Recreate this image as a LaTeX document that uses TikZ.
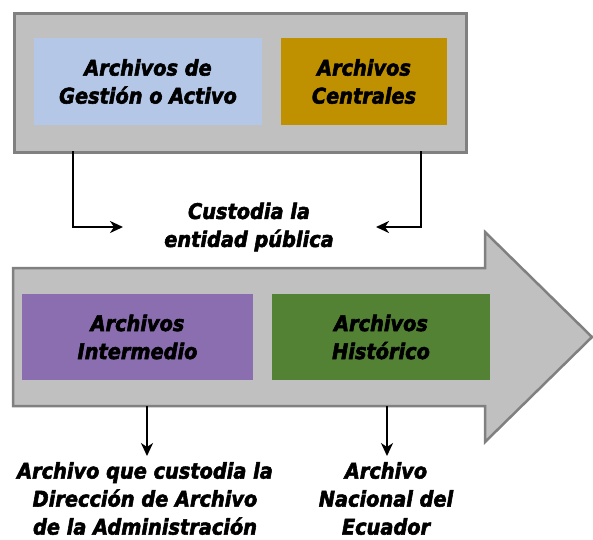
\documentclass[tikz,border=0pt]{standalone}
\usepackage{fontspec}
\setmainfont{DejaVu Sans Condensed}[BoldItalicFeatures={FakeBold=2.5}]
\usetikzlibrary{arrows.meta}
\definecolor{panel}{HTML}{BFC0BF}
\definecolor{panelline}{HTML}{808080}
\definecolor{cblue}{HTML}{B4C7E7}
\definecolor{cgold}{HTML}{BF9000}
\definecolor{cpurple}{HTML}{8A6EAF}
\definecolor{cgreen}{HTML}{548235}
\tikzset{
  box/.style={anchor=north west, inner sep=0pt, outer sep=0pt, align=center,
    font=\fontsize{21.5}{28}\selectfont\bfseries\itshape},
  lbl/.style={inner sep=0pt, align=center, font=\fontsize{21.5}{28}\selectfont\bfseries\itshape},
  conn/.style={line width=2.2pt, -{Stealth[length=13pt,width=12pt,inset=4pt]}}
}
\begin{document}
\begin{tikzpicture}[x=1pt,y=-1pt]
\useasboundingbox (0,0) rectangle (593,539);
% top panel
\node[anchor=north west, draw=panelline, line width=2.5pt, fill=panel, minimum width=452pt, minimum height=139pt, inner sep=0pt] (top) at (13,12) {};
\node[box, fill=cblue, minimum width=228pt, minimum height=87pt] (gest) at (34,38) {Archivos de\\Gestión o Activo};
\node[box, fill=cgold, minimum width=166pt, minimum height=87pt] (cent) at (281,38) {Archivos\\Centrales};
% big arrow
\draw[panelline, line width=2.5pt, fill=panel, line join=miter]
  (13,268) -- (485,268) -- (485,232) -- (592,337) -- (485,442) -- (485,406) -- (13,406) -- cycle;
\coordinate (arrL) at (147,406);
\coordinate (arrR) at (387,406);
\node[box, fill=cpurple, minimum width=231pt, minimum height=86pt] (inter) at (22,294) {Archivos\\Intermedio};
\node[box, fill=cgreen, minimum width=218pt, minimum height=86pt] (hist) at (272,294) {Archivos\\Histórico};
% middle label
\node[lbl] (cust) at (249,227) {Custodia la\\entidad pública};
\coordinate (tl) at (73,151);
\coordinate (tr) at (421,151);
\coordinate (tlend) at (123,227);
\coordinate (trend) at (376,227);
\draw[conn] (tl) |- (tlend);
\draw[conn] (tr) |- (trend);
% bottom labels
\node[lbl, anchor=north] (dir) at (145,462) {Archivo que custodia la\\Dirección de Archivo\\de la Administración};
\node[lbl, anchor=north] (nac) at (386,462) {Archivo\\Nacional del\\Ecuador};
\coordinate (dlend) at (147,456);
\coordinate (drend) at (387,456);
\draw[conn] (arrL) -- (dlend);
\draw[conn] (arrR) -- (drend);
\end{tikzpicture}
\end{document}
